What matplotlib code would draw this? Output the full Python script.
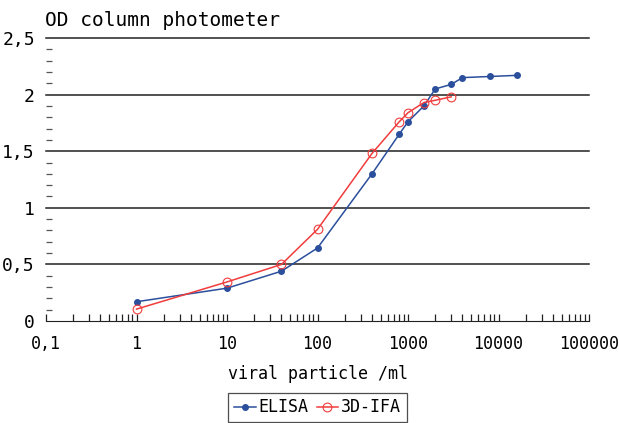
import matplotlib
matplotlib.use("Agg")
import matplotlib.pyplot as plt
from matplotlib.ticker import LogLocator, FixedLocator, MultipleLocator

# === data ===
elisa_x = [1, 10, 40, 100, 400, 800, 1000, 1500, 2000, 3000, 4000, 8000, 16000]
elisa_y = [0.17, 0.29, 0.44, 0.645, 1.30, 1.65, 1.76, 1.90, 2.05, 2.09, 2.15, 2.16, 2.17]

ifa_x = [1, 10, 40, 100, 400, 800, 1000, 1500, 2000, 3000]
ifa_y = [0.105, 0.345, 0.50, 0.81, 1.48, 1.76, 1.84, 1.93, 1.95, 1.98]

x_ticks = [0.1, 1, 10, 100, 1000, 10000, 100000]
x_labels = ["0,1", "1", "10", "100", "1000", "10000", "100000"]
y_ticks = [0, 0.5, 1, 1.5, 2, 2.5]
y_labels = ["0", "0,5", "1", "1,5", "2", "2,5"]

# === style ===
FONT = ["DejaVu Sans Mono"]
BLUE = "#2b4f9c"
RED = "#f03c3c"

fig = plt.figure(figsize=(6.19, 4.23), dpi=100)
ax = fig.add_axes([46 / 619, 1 - 321 / 423, (589 - 46) / 619, (321 - 38) / 423])

ax.plot(elisa_x, elisa_y, color=BLUE, lw=1.1, marker="o", ms=4,
        mfc=BLUE, mec=BLUE, label="ELISA", zorder=3)
ax.plot(ifa_x, ifa_y, color=RED, lw=1.1, marker="o", ms=6.3,
        mfc="none", mec=RED, mew=0.8, label="3D-IFA", zorder=4)

ax.set_xscale("log")
ax.set_xlim(0.1, 100000)
ax.set_ylim(0, 2.5)

# gridlines at the major y steps
for yv in y_ticks[1:]:
    ax.axhline(yv, color="#222222", lw=1.1, zorder=1, clip_on=False)

ax.spines["top"].set_visible(False)
ax.spines["right"].set_visible(False)
ax.spines["left"].set_visible(False)
ax.spines["bottom"].set_color("#222222")

ax.xaxis.set_major_locator(FixedLocator(x_ticks))
ax.xaxis.set_minor_locator(LogLocator(base=10, subs=range(2, 10)))
ax.set_xticks(x_ticks)
ax.set_xticklabels(x_labels, family=FONT, fontsize=12)
ax.tick_params(axis="x", which="both", direction="in", length=5, width=0.9,
               color="#222222", pad=10)
ax.xaxis.set_minor_formatter(plt.NullFormatter())

ax.set_yticks(y_ticks)
ax.set_yticklabels(y_labels, family=FONT, fontsize=13)
ax.yaxis.set_minor_locator(MultipleLocator(0.1))
ax.tick_params(axis="y", which="major", length=0, pad=8)
ax.tick_params(axis="y", which="minor", direction="in", length=4, width=0.9,
               color="#555555")

ax.set_xlabel("viral particle /ml", family=FONT, fontsize=12, labelpad=9)
fig.text(45 / 619, 1 - 20 / 423, "OD column photometer", family=FONT,
         fontsize=14, va="center", ha="left")

leg = ax.legend(loc="lower center", bbox_to_anchor=(0.5, -0.358), ncol=2,
                prop={"family": FONT, "size": 12}, frameon=True, fancybox=False,
                handlelength=1.3, handletextpad=0.15, columnspacing=0.5,
                borderpad=0.35, borderaxespad=0)
leg.get_frame().set_edgecolor("#222222")
leg.get_frame().set_linewidth(0.9)

fig.savefig("out.png", dpi=100)
